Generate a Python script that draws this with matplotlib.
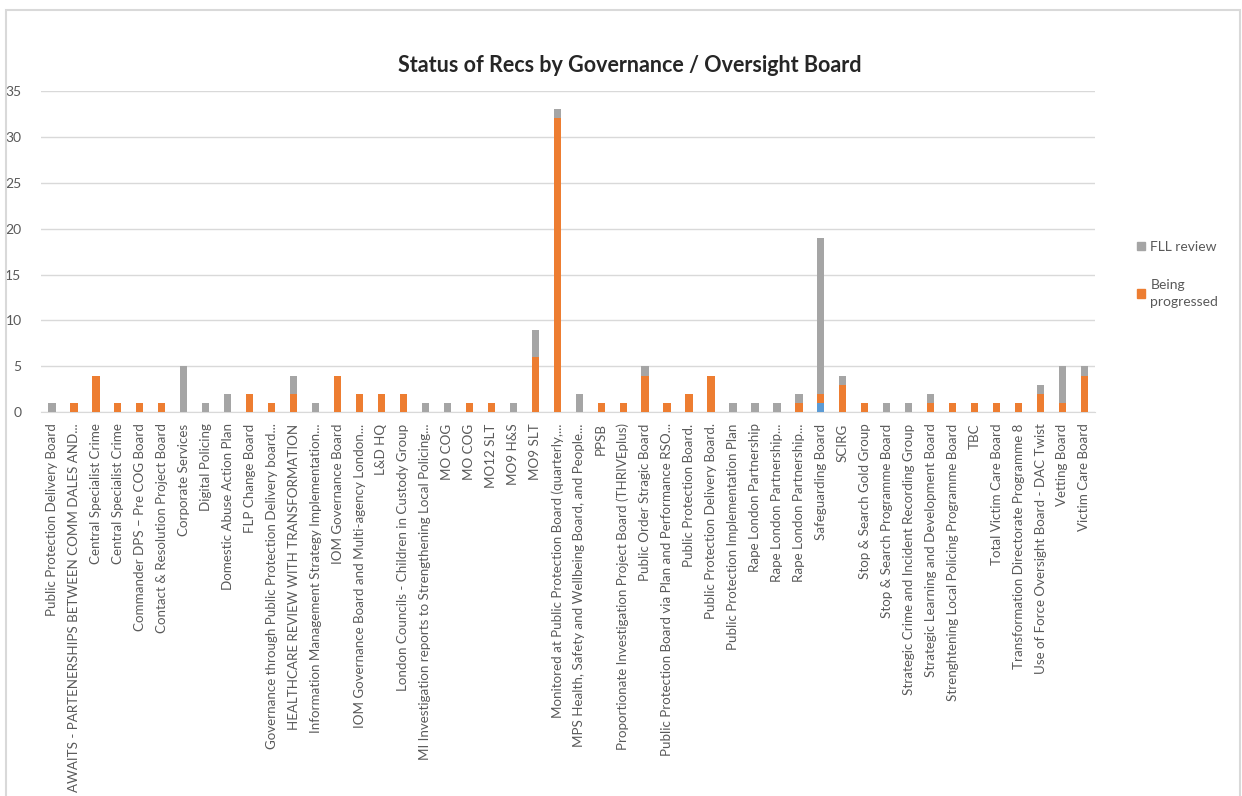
import matplotlib
matplotlib.use("Agg")
import matplotlib.pyplot as plt
import numpy as np
from matplotlib.patches import Rectangle, Patch

# Governance / oversight boards (x axis)
boards = [
    "Public Protection Delivery Board",
    "AWAITS - PARTENERSHIPS BETWEEN COMM DALES AND...",
    "Central Specialist Crime",
    "Central Specialist Crime",
    "Commander DPS – Pre COG Board",
    "Contact & Resolution Project Board",
    "Corporate Services",
    "Digital Policing",
    "Domestic Abuse Action Plan",
    "FLP Change Board",
    "Governance through Public Protection Delivery board...",
    "HEALTHCARE REVIEW WITH TRANSFORMATION",
    "Information Management Strategy Implementation...",
    "IOM Governance Board",
    "IOM Governance Board and Multi-agency London...",
    "L&D HQ",
    "London Councils - Children in Custody Group",
    "MI Investigation reports to Strengthening Local Policing...",
    "MO COG",
    "MO COG",
    "MO12 SLT",
    "MO9 H&S",
    "MO9 SLT",
    "Monitored at Public Protection Board (quarterly,...",
    "MPS Health, Safety and Wellbeing Board, and People...",
    "PPSB",
    "Proportionate Investigation Project Board (THRIVEplus)",
    "Public Order Stragic Board",
    "Public Protection Board via Plan and Performance RSO...",
    "Public Protection Board.",
    "Public Protection Delivery Board.",
    "Public Protection Implementation Plan",
    "Rape London Partnership",
    "Rape London Partnership...",
    "Rape London Partnership...",
    "Safeguarding Board",
    "SCIRG",
    "Stop & Search Gold Group",
    "Stop & Search Programme Board",
    "Strategic Crime and Incident Recording Group",
    "Strategic Learning and Development Board",
    "Strenghtening Local Policing Programme Board",
    "TBC",
    "Total Victim Care Board",
    "Transformation Directorate Programme 8",
    "Use of Force Oversight Board - DAC Twist",
    "Vetting Board",
    "Victim Care Board",
]

# stacked series, bottom to top
other = [0, 0, 0, 0, 0, 0, 0, 0, 0, 0, 0, 0, 0, 0, 0, 0, 0, 0, 0, 0, 0, 0, 0, 0,
         0, 0, 0, 0, 0, 0, 0, 0, 0, 0, 0, 1, 0, 0, 0, 0, 0, 0, 0, 0, 0, 0, 0, 0]
being_progressed = [0, 1, 4, 1, 1, 1, 0, 0, 0, 2, 1, 2, 0, 4, 2, 2, 2, 0, 0, 1, 1, 0, 6, 32,
                    0, 1, 1, 4, 1, 2, 4, 0, 0, 0, 1, 1, 3, 1, 0, 0, 1, 1, 1, 1, 1, 2, 1, 4]
fll_review = [1, 0, 0, 0, 0, 0, 5, 1, 2, 0, 0, 2, 1, 0, 0, 0, 0, 1, 1, 0, 0, 1, 3, 1,
              2, 0, 0, 1, 0, 0, 0, 1, 1, 1, 1, 17, 1, 0, 1, 1, 1, 0, 0, 0, 0, 1, 4, 1]

GREY = "#A5A5A5"
ORANGE = "#ED7D31"
BLUE = "#5B9BD5"
TXT = "#595959"

plt.rcParams['font.family'] = ['Lato', 'DejaVu Sans']

fig = plt.figure(figsize=(12.42, 7.96), dpi=100)
ax = fig.add_axes([0.033, 0.482, 0.849, 0.404])

x = np.arange(len(boards))
other = np.array(other)
prog = np.array(being_progressed)
fll = np.array(fll_review)
w = 0.33

ax.bar(x, other, w, color=BLUE, zorder=3)
ax.bar(x, prog, w, bottom=other, color=ORANGE, zorder=3)
ax.bar(x, fll, w, bottom=other + prog, color=GREY, zorder=3)

ax.set_xlim(-0.5, len(boards) - 0.5)
ax.set_ylim(0, 35)
ax.set_yticks(range(0, 36, 5))
ax.yaxis.grid(True, color="#D9D9D9", linewidth=1)
ax.set_axisbelow(True)
for s in ["top", "right", "left"]:
    ax.spines[s].set_visible(False)
ax.spines["bottom"].set_color("#D9D9D9")
ax.tick_params(axis="y", length=0, pad=14, labelsize=10, labelcolor=TXT)
ax.tick_params(axis="x", length=0, pad=8)
ax.set_xticks(x)
ax.set_xticklabels(boards, rotation=90, fontsize=9.6, color=TXT)

fig.text(0.507, 0.918, "Status of Recs by Governance / Oversight Board",
         ha="center", va="center", fontsize=15.5, fontweight="bold", color="#262626")

handles = [Patch(color=GREY), Patch(color=ORANGE)]
leg = fig.legend(handles, ["FLL review", "Being\nprogressed"], loc="upper left",
                 bbox_to_anchor=(0.905, 0.713), frameon=False, fontsize=10,
                 labelcolor=TXT, handlelength=0.6, handleheight=0.6,
                 handletextpad=0.4, labelspacing=1.85)
for t in leg.get_texts():
    t.set_linespacing(1.5)

# chart frame
fig.patches.append(Rectangle((0.005, -0.05), 0.993, 1.038, transform=fig.transFigure,
                             fill=False, edgecolor="#D9D9D9", linewidth=1.5))

fig.savefig("out.png", dpi=100, facecolor="white")
